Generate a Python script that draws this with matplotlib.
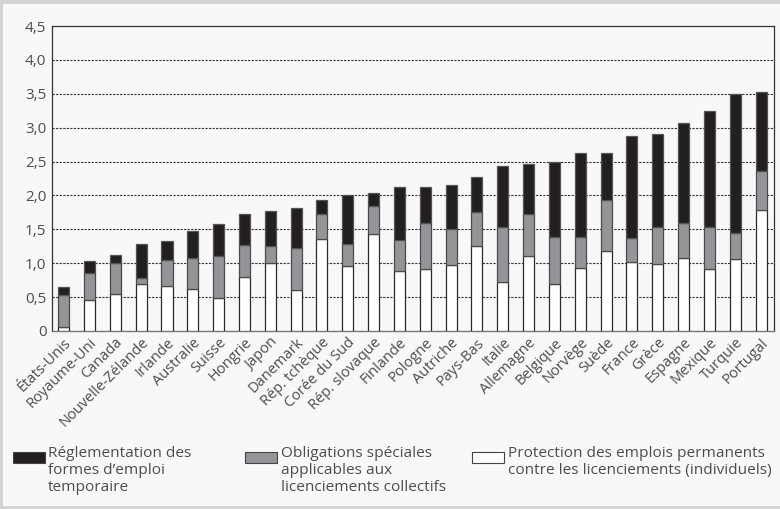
import matplotlib
matplotlib.use("Agg")
import matplotlib.pyplot as plt
from matplotlib.patches import Rectangle
import numpy as np

countries = ["États-Unis", "Royaume-Uni", "Canada", "Nouvelle-Zélande", "Irlande",
             "Australie", "Suisse", "Hongrie", "Japon", "Danemark", "Rép. tchèque",
             "Corée du Sud", "Rép. slovaque", "Finlande", "Pologne", "Autriche",
             "Pays-Bas", "Italie", "Allemagne", "Belgique", "Norvège", "Suède",
             "France", "Grèce", "Espagne", "Mexique", "Turquie", "Portugal"]
# cumulative tops
individual = [0.06, 0.46, 0.55, 0.70, 0.66, 0.62, 0.48, 0.79, 1.01, 0.60, 1.36,
              0.96, 1.43, 0.89, 0.91, 0.97, 1.26, 0.72, 1.11, 0.70, 0.93, 1.18,
              1.02, 0.99, 1.08, 0.92, 1.06, 1.78]
collective_top = [0.53, 0.86, 1.01, 0.78, 1.05, 1.08, 1.11, 1.27, 1.25, 1.23, 1.73,
                  1.29, 1.84, 1.34, 1.60, 1.51, 1.76, 1.53, 1.72, 1.39, 1.39, 1.93,
                  1.37, 1.53, 1.60, 1.53, 1.44, 2.36]
total = [0.65, 1.04, 1.12, 1.28, 1.33, 1.47, 1.58, 1.73, 1.77, 1.82, 1.94,
         2.01, 2.03, 2.12, 2.12, 2.15, 2.27, 2.43, 2.47, 2.50, 2.62, 2.62,
         2.88, 2.91, 3.07, 3.24, 3.50, 3.53]

legend_labels = ["Réglementation des\nformes d’emploi\ntemporaire",
                 "Obligations spéciales\napplicables aux\nlicenciements collectifs",
                 "Protection des emplois permanents\ncontre les licenciements (individuels)"]
yticks = [0, 0.5, 1.0, 1.5, 2.0, 2.5, 3.0, 3.5, 4.0, 4.5]
ytick_labels = ["0", "0,5", "1,0", "1,5", "2,0", "2,5", "3,0", "3,5", "4,0", "4,5"]

plt.rcParams['font.family'] = ['Open Sans', 'DejaVu Sans']
BLACK = "#231f20"
GRAY = "#939598"
WHITE = "#ffffff"
TXT = "#4d4d4d"

fig = plt.figure(figsize=(7.8, 5.09), dpi=100)
fig.patch.set_facecolor("#d4d4d4")
# inner background panel
fig.patches.append(Rectangle((3/780, 3/509), 1 - 3/780, 1 - 7/509, transform=fig.transFigure,
                             facecolor="#f8f8f8", edgecolor="none", zorder=-5))

ax = fig.add_axes([52/780, 1 - 331/509, (774 - 52)/780, (331 - 26)/509])
ax.set_facecolor("#f8f8f8")

ind = np.array(individual)
col = np.array(collective_top) - ind
tmp = np.array(total) - np.array(collective_top)
x = np.arange(len(countries))
w = 0.43
ax.bar(x, ind, w, color=WHITE, edgecolor="#2a2a2a", linewidth=0.9, zorder=3)
ax.bar(x, col, w, bottom=ind, color=GRAY, edgecolor="#4a4a4a", linewidth=0.9, zorder=3)
ax.bar(x, tmp, w, bottom=ind + col, color=BLACK, edgecolor="#555555", linewidth=0.9, zorder=3)

ax.set_xlim(-0.45, len(countries) - 0.5)
ax.set_ylim(0, 4.5)
ax.set_yticks(yticks)
ax.set_yticklabels(ytick_labels, color=TXT, fontsize=11)
for yv in yticks[1:-1]:
    ax.axhline(yv, color="#333333", linestyle=(0, (2, 1.2)), linewidth=0.8, zorder=1)
ax.tick_params(axis="y", length=0, pad=4)
ax.tick_params(axis="x", length=0, pad=3)
ax.set_xticks(x)
ax.set_xticklabels(countries, rotation=45, ha="right", rotation_mode="anchor",
                   color=TXT, fontsize=10.5)
for s in ["left", "top", "right"]:
    ax.spines[s].set_color("#333333")
    ax.spines[s].set_linewidth(0.9)
ax.spines["bottom"].set_color("#777777")
ax.spines["bottom"].set_linewidth(1.0)

# legend drawn manually
colors = [BLACK, GRAY, WHITE]
patch_x = [13, 245, 472]
text_x = [48, 281, 508]
for c, px, tx, lab in zip(colors, patch_x, text_x, legend_labels):
    fig.patches.append(Rectangle((px/780, 1 - 463/509), 32/780, 11/509, transform=fig.transFigure,
                                 facecolor=c, edgecolor="#444444", linewidth=0.8, zorder=2))
    fig.text(tx/780, 1 - 446/509, lab, ha="left", va="top", fontsize=11.1, color=TXT,
             linespacing=1.18)

fig.savefig("out.png", dpi=100, facecolor=fig.get_facecolor())
